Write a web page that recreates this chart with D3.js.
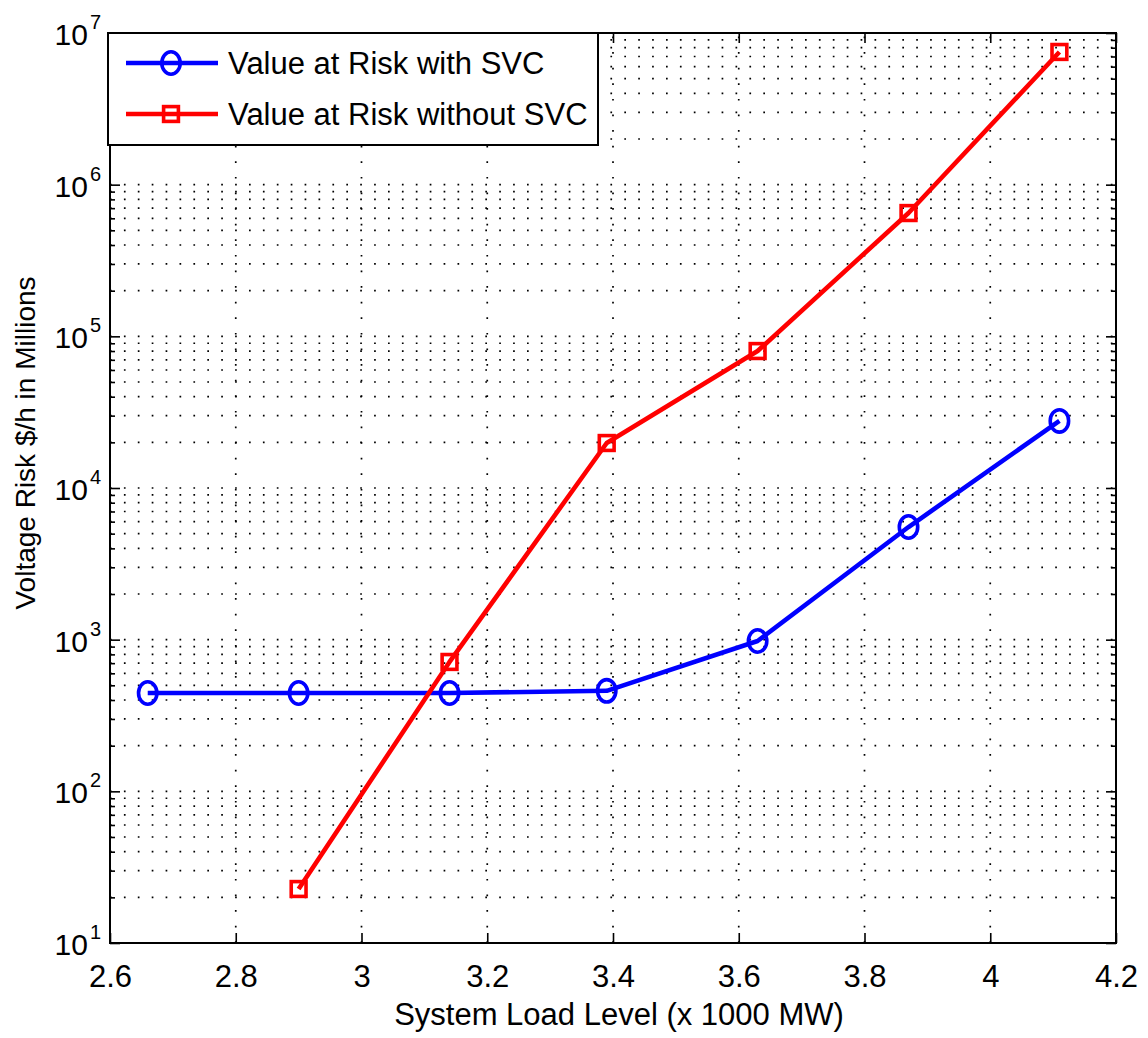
<!DOCTYPE html>
<html>
<head>
<meta charset="utf-8">
<script src="https://cdn.jsdelivr.net/npm/d3@7"></script>
<style>
  body { margin: 0; background: #fff; }
  svg text { font-family: "Liberation Sans", Arial, Helvetica, sans-serif; fill: #000; }
</style>
</head>
<body>
<svg id="chart" width="1148" height="1038"></svg>
<script>
// System load level (x 1000 MW) at which the risk was evaluated
const loadWithSVC = [2.66, 2.90, 3.14, 3.39, 3.63, 3.87, 4.11];
const riskWithSVC = [445, 445, 445, 460, 980, 5530, 27700];
const loadWithoutSVC = [2.90, 3.14, 3.39, 3.63, 3.87, 4.11];
const riskWithoutSVC = [22.7, 713, 19800, 80000, 650000, 7500000];
const seriesNames = ["Value at Risk with SVC", "Value at Risk without SVC"];
const xTickValues = [2.6, 2.8, 3.0, 3.2, 3.4, 3.6, 3.8, 4.0, 4.2];
const yExponents = [1, 2, 3, 4, 5, 6, 7];
const xTitle = "System Load Level (x 1000 MW)";
const yTitle = "Voltage Risk $/h in Millions";

const svg = d3.select("#chart");
const plot = { left: 110, right: 1116, top: 33, bottom: 943 };

const x = d3.scaleLinear().domain([2.6, 4.2]).range([plot.left, plot.right]);
const y = d3.scaleLog().domain([10, 1e7]).range([plot.bottom, plot.top]);

const majorY = yExponents.map(e => Math.pow(10, e));
const minorY = [];
yExponents.slice(0, -1).forEach(e => {
  for (let m = 2; m <= 9; m++) minorY.push(m * Math.pow(10, e));
});

// dotted grid: every decade and sub-decade horizontally, major x ticks vertically
const grid = svg.append("g").attr("stroke", "#000").attr("stroke-width", 1.7).attr("fill", "none");
grid.selectAll("line.h").data(majorY.concat(minorY)).join("line")
  .attr("class", "h")
  .attr("x1", plot.left).attr("x2", plot.right)
  .attr("y1", d => y(d)).attr("y2", d => y(d))
  .attr("stroke-dasharray", "1.7,12.2");
grid.selectAll("line.v").data(xTickValues.slice(1, -1)).join("line")
  .attr("class", "v")
  .attr("x1", d => x(d)).attr("x2", d => x(d))
  .attr("y1", plot.bottom).attr("y2", plot.top)
  .attr("stroke-dasharray", "1.7,13.9");

// axes with inward ticks on all four sides
function styleAxis(g) {
  g.select(".domain").remove();
  g.selectAll(".tick line").attr("stroke", "#000").attr("stroke-width", 1.6);
}
svg.append("g").attr("transform", `translate(0,${plot.bottom})`)
  .call(d3.axisBottom(x).tickValues(xTickValues).tickSize(-10).tickPadding(22).tickFormat(d3.format("~g")))
  .call(styleAxis)
  .call(g => g.selectAll(".tick text").attr("font-size", 31).attr("font-family", null));
svg.append("g").attr("transform", `translate(0,${plot.top})`)
  .call(d3.axisTop(x).tickValues(xTickValues).tickSize(-10).tickFormat(""))
  .call(styleAxis);
svg.append("g").attr("transform", `translate(${plot.left},0)`)
  .call(d3.axisLeft(y).tickValues(majorY).tickSize(-10).tickFormat(""))
  .call(styleAxis);
svg.append("g").attr("transform", `translate(${plot.left},0)`)
  .call(d3.axisLeft(y).tickValues(minorY).tickSize(-5).tickFormat(""))
  .call(styleAxis);
svg.append("g").attr("transform", `translate(${plot.right},0)`)
  .call(d3.axisRight(y).tickValues(majorY).tickSize(-10).tickFormat(""))
  .call(styleAxis);
svg.append("g").attr("transform", `translate(${plot.right},0)`)
  .call(d3.axisRight(y).tickValues(minorY).tickSize(-5).tickFormat(""))
  .call(styleAxis);

// y tick labels as powers of ten: base "10" ends at x=88, exponent follows
const yLab = svg.append("g").selectAll("text").data(yExponents).join("text")
  .attr("x", 88 - 33.4).attr("y", d => y(Math.pow(10, d)) + 12)
  .attr("font-size", 30);
yLab.append("tspan").text("10");
yLab.append("tspan").attr("font-size", 20).attr("dx", 2).attr("dy", -16).text(d => d);

// box
svg.append("rect")
  .attr("x", plot.left).attr("y", plot.top)
  .attr("width", plot.right - plot.left).attr("height", plot.bottom - plot.top)
  .attr("fill", "none").attr("stroke", "#000").attr("stroke-width", 2);

// axis titles
svg.append("text").attr("x", 619).attr("y", 1025)
  .attr("text-anchor", "middle").attr("font-size", 31).text(xTitle);
svg.append("text").attr("transform", "translate(35,443) rotate(-90)")
  .attr("text-anchor", "middle").attr("font-size", 28).text(yTitle);

// series
const colors = ["#0000ff", "#ff0000"];
const line = d3.line().x(d => x(d[0])).y(d => y(d[1]));
const withSVC = d3.zip(loadWithSVC, riskWithSVC);
const withoutSVC = d3.zip(loadWithoutSVC, riskWithoutSVC);

function drawCircle(g, cx, cy, color) {
  g.append("ellipse").attr("cx", cx).attr("cy", cy).attr("rx", 9.2).attr("ry", 11.2)
    .attr("fill", "none").attr("stroke", color).attr("stroke-width", 3.6);
}
function drawSquare(g, cx, cy, color) {
  g.append("rect").attr("x", cx - 7.4).attr("y", cy - 7.4).attr("width", 14.8).attr("height", 14.8)
    .attr("fill", "none").attr("stroke", color).attr("stroke-width", 3.6);
}

const marks = svg.append("g");
marks.append("path").datum(withSVC).attr("d", line)
  .attr("fill", "none").attr("stroke", colors[0]).attr("stroke-width", 4.6).attr("stroke-linejoin", "round");
marks.append("path").datum(withoutSVC).attr("d", line)
  .attr("fill", "none").attr("stroke", colors[1]).attr("stroke-width", 4.6).attr("stroke-linejoin", "round");
withSVC.forEach(d => drawCircle(marks, x(d[0]), y(d[1]), colors[0]));
withoutSVC.forEach(d => drawSquare(marks, x(d[0]), y(d[1]), colors[1]));

// legend
const legend = svg.append("g");
legend.append("rect").attr("x", 108).attr("y", 33).attr("width", 490).attr("height", 112)
  .attr("fill", "#fff").attr("stroke", "#000").attr("stroke-width", 2);
const rows = [63, 114];
seriesNames.forEach((name, i) => {
  const ry = rows[i];
  legend.append("line").attr("x1", 126).attr("x2", 218).attr("y1", ry).attr("y2", ry)
    .attr("stroke", colors[i]).attr("stroke-width", 4.6);
  if (i === 0) drawCircle(legend, 171, ry, colors[i]); else drawSquare(legend, 171, ry, colors[i]);
  legend.append("text").attr("x", 228).attr("y", ry + 11).attr("font-size", 31).text(name);
});
</script>
</body>
</html>
